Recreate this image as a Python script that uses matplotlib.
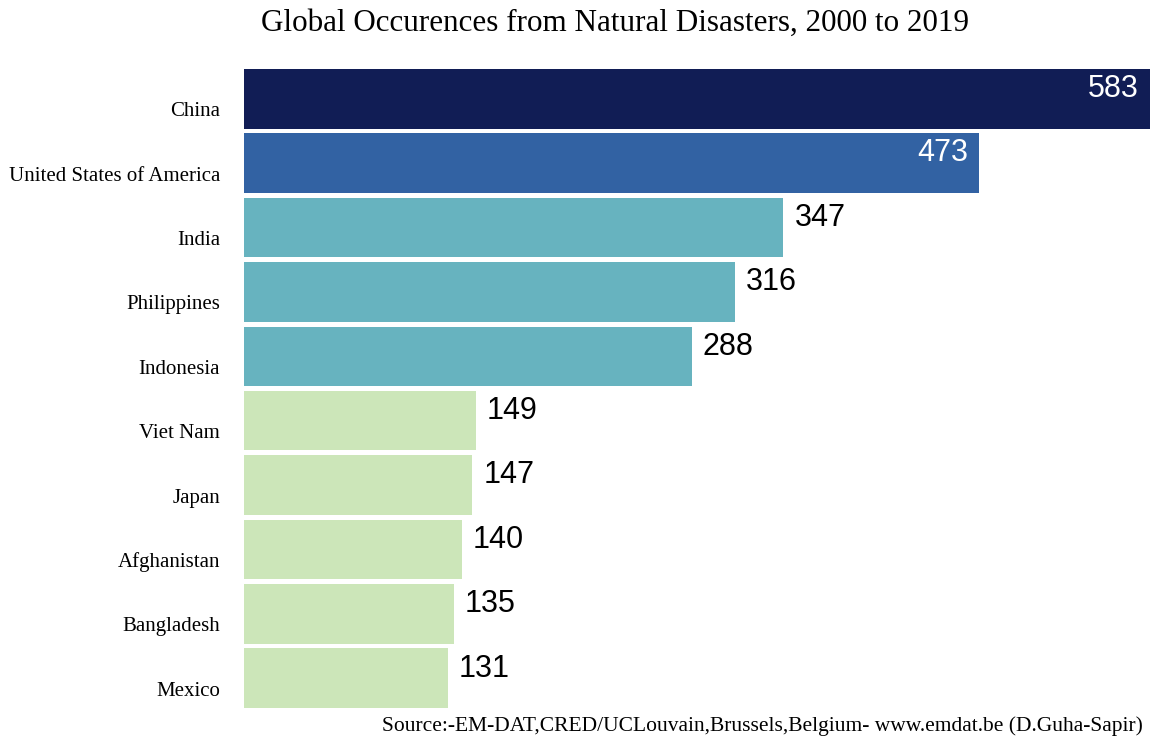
import matplotlib.pyplot as plt
import matplotlib.transforms as mtransforms

countries = ["China", "United States of America", "India", "Philippines",
             "Indonesia", "Viet Nam", "Japan", "Afghanistan", "Bangladesh",
             "Mexico"]
occurrences = [583, 473, 347, 316, 288, 149, 147, 140, 135, 131]
colors = ["#111d55", "#3262a3", "#67b3bf", "#67b3bf", "#67b3bf",
          "#cce6b9", "#cce6b9", "#cce6b9", "#cce6b9", "#cce6b9"]
label_colors = ["white", "white", "black", "black", "black",
                "black", "black", "black", "black", "black"]

fig = plt.figure(figsize=(11.5, 7.37), dpi=100)
ax = fig.add_axes([244 / 1150, 1 - 708 / 737, 906 / 1150, 639 / 737])

ypos = list(range(len(countries)))
bar_h = 0.925
ax.barh(ypos, occurrences, height=bar_h, color=colors)
ax.set_xlim(0, 583)
ax.set_ylim(len(countries) - 1 + bar_h / 2, -bar_h / 2)

# value labels: inside the two largest bars, outside the rest
for y, v, c in zip(ypos, occurrences, label_colors):
    inside = c == "white"
    ax.annotate(str(v), xy=(v, y), xytext=(-8 if inside else 8, 7),
                textcoords="offset points", ha="right" if inside else "left",
                va="center", fontsize=22, color=c, family="Liberation Sans")

# country names sit a little below the middle of each bar
name_tf = (mtransforms.blended_transform_factory(ax.transAxes, ax.transData)
           + mtransforms.ScaledTranslation(0, -0.13, fig.dpi_scale_trans))
for y, name in zip(ypos, countries):
    ax.text(-24 / 906, y, name, transform=name_tf, ha="right", va="center",
            fontsize=15, family="Liberation Serif")

ax.set_xticks([])
ax.set_yticks([])
for s in ax.spines.values():
    s.set_visible(False)

fig.text(615 / 1150, 1 - 23 / 737,
         "Global Occurences from Natural Disasters, 2000 to 2019",
         ha="center", va="center", fontsize=22.4, family="Liberation Serif")
fig.text(1143 / 1150, 1 - 726 / 737,
         "Source:-EM-DAT,CRED/UCLouvain,Brussels,Belgium- www.emdat.be (D.Guha-Sapir)",
         ha="right", va="center", fontsize=15.5, family="Liberation Serif")

fig.savefig("out.png", dpi=100)
